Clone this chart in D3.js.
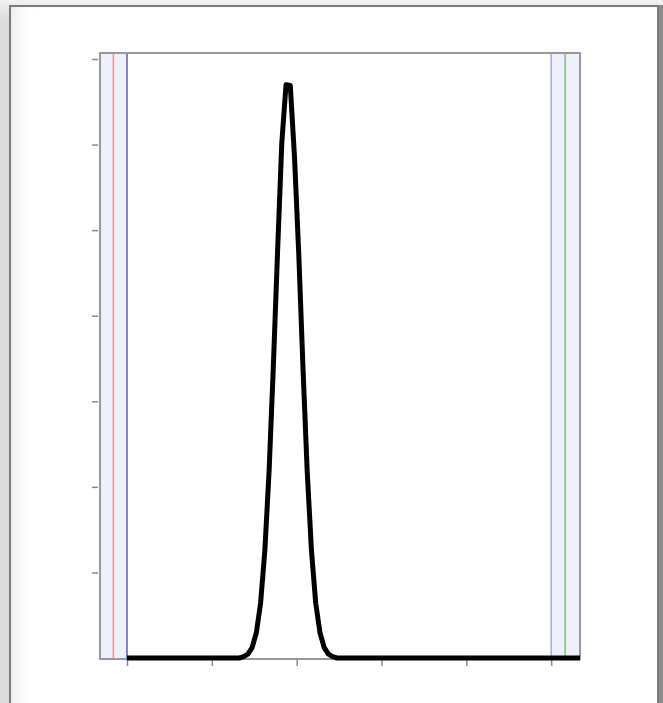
<!DOCTYPE html>
<html>
<head>
<meta charset="utf-8">
<script src="https://cdn.jsdelivr.net/npm/d3@7"></script>
<style>
  html, body { margin: 0; padding: 0; }
  body {
    width: 663px; height: 703px; overflow: hidden; position: relative;
    background: linear-gradient(#f2f2f2, #dcdcdc 20px, #dcdcdc);
    font-family: "DejaVu Sans", sans-serif;
  }
  #frame {
    position: absolute; left: 9px; top: 5px; width: 646px; height: 720px;
    background: #fff; border: 2px solid #7a7a7a;
    box-shadow: inset 14px 0 18px -12px rgba(0,0,0,0.12), 4px 0 0 #8c8c8c;
  }
  #chart { position: absolute; left: 0; top: 0; }
</style>
</head>
<body>
<div id="frame"></div>
<div id="chart"></div>
<script>
// curve samples (x in axis units, y in axis units)
const curveX = [0, 1.325, 1.375, 1.425, 1.475, 1.525, 1.575, 1.625, 1.675, 1.725, 1.775,
  1.825, 1.875, 1.925, 1.975, 2.025, 2.075, 2.125, 2.175, 2.225, 2.275,
  2.325, 2.375, 2.425, 2.475, 5.34];
const curveY = [0, 0, 0.015, 0.045, 0.121, 0.295, 0.642, 1.252, 2.182, 3.402, 4.748,
  6.02, 6.70, 6.69, 5.85, 4.72, 3.38, 2.17, 1.25, 0.64, 0.295,
  0.121, 0.045, 0.015, 0, 0];

// shaded side bands and vertical marker lines
const bandStart = [-0.32, 5.0];
const bandEnd = [0, 5.34];
const markerX = [-0.16, 0, 5.0, 5.165];
const markerColor = ["#f0909c", "#5a5ac0", "#a6a6f6", "#78c078"];

const xTicks = [0, 1, 2, 3, 4, 5];
const yTicks = [1, 2, 3, 4, 5, 6, 7];

const margin = { top: 53, right: 83, bottom: 44, left: 100 };
const width = 663 - margin.left - margin.right;   // 480
const height = 703 - margin.top - margin.bottom;  // 606

const svg = d3.select("#chart").append("svg")
  .attr("width", 663)
  .attr("height", 703)
  .append("g")
  .attr("transform", `translate(${margin.left}, ${margin.top})`);

const x = d3.scaleLinear().domain([-0.318, 5.34]).range([0, width]);
const y = d3.scaleLinear().domain([0, 7]).range([605, 6]);

// side bands
svg.selectAll(".band")
  .data(bandStart)
  .join("rect")
  .attr("class", "band")
  .attr("x", (d, i) => x(d))
  .attr("y", 0)
  .attr("width", (d, i) => x(bandEnd[i]) - x(d))
  .attr("height", height)
  .attr("fill", "#eef0fc");

// vertical markers
svg.selectAll(".marker")
  .data(markerX)
  .join("line")
  .attr("class", "marker")
  .attr("x1", d => x(d)).attr("x2", d => x(d))
  .attr("y1", 0).attr("y2", height)
  .attr("stroke", (d, i) => markerColor[i])
  .attr("stroke-width", 1.5);

// axes
const xAxis = d3.axisBottom(x).tickValues(xTicks).tickSize(7).tickFormat("");
const yAxis = d3.axisLeft(y).tickValues(yTicks).tickSize(6).tickFormat("");

svg.append("g")
  .attr("class", "axis x-axis")
  .attr("transform", `translate(0, ${height})`)
  .call(xAxis)
  .call(g => g.select(".domain").remove())
  .call(g => g.selectAll("line").attr("stroke", "#8a8a8a").attr("stroke-width", 1.5));

svg.append("g")
  .attr("class", "axis y-axis")
  .attr("transform", "translate(-2, 0)")
  .call(yAxis)
  .call(g => g.select(".domain").remove())
  .call(g => g.selectAll("line").attr("stroke", "#8a8a8a").attr("stroke-width", 1.5));

// plot frame
svg.append("rect")
  .attr("x", 0).attr("y", 0)
  .attr("width", width).attr("height", height)
  .attr("fill", "none")
  .attr("stroke", "#999")
  .attr("stroke-width", 2);

// curve
const line = d3.line()
  .x((d, i) => x(curveX[i]))
  .y(d => y(d));

svg.append("path")
  .datum(curveY)
  .attr("d", line)
  .attr("fill", "none")
  .attr("stroke", "#000")
  .attr("stroke-width", 5)
  .attr("stroke-linejoin", "round");
</script>
</body>
</html>
